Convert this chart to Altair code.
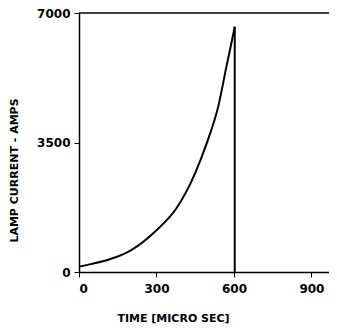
import altair as alt
import pandas as pd

time_us = [0, 50, 113, 204, 300, 378, 449, 494, 539, 572, 592, 603, 603]
current_a = [145, 220, 330, 600, 1130, 1730, 2660, 3470, 4470, 5590, 6250, 6630, 0]
x_ticks = [0, 300, 600, 900]
y_ticks = [0, 3500, 7000]

rise = pd.DataFrame({"t": time_us[:-1], "i": current_a[:-1]})
drop = pd.DataFrame({"t": [time_us[-1]], "i": [current_a[-2]], "i2": [current_a[-1]]})

FONT = "DejaVu Sans"
xs = alt.Scale(domain=[0, 968], nice=False)
ys = alt.Scale(domain=[0, 7000], nice=False)

line = alt.Chart(rise).mark_line(color="black", strokeWidth=2, interpolate="monotone").encode(
    x=alt.X("t:Q", scale=xs,
            axis=alt.Axis(values=x_ticks, format="d", title="TIME  [MICRO SEC]", grid=False,
                          domainColor="black", tickColor="black", tickSize=5,
                          labelPadding=6, titleX=94, titleY=46, titleAnchor="middle",
                          titleBaseline="middle")),
    y=alt.Y("i:Q", scale=ys,
            axis=alt.Axis(values=y_ticks, format="d", title="LAMP CURRENT - AMPS", grid=False,
                          domainColor="black", tickColor="black", tickSize=5,
                          labelPadding=4, titleX=-65, titleY=157,
                          titleAngle=270, titleAlign="center",
                          titleBaseline="middle")),
)

drop_rule = alt.Chart(drop).mark_rule(color="black", strokeWidth=2).encode(
    x=alt.X("t:Q", scale=xs), y=alt.Y("i:Q", scale=ys), y2="i2:Q"
)

top = alt.Chart(pd.DataFrame({"a": [0]})).mark_rule(color="black", strokeWidth=1.5).encode(
    x=alt.value(0), x2=alt.value(250), y=alt.value(0)
)

chart = (line + drop_rule + top).properties(
    width=250, height=259,
    padding={"left": 71, "top": 5, "right": 0, "bottom": 58},
    autosize="none",
).configure_view(stroke=None).configure_axis(
    labelFont=FONT, titleFont=FONT, labelFontSize=12, titleFontSize=11,
    labelFontWeight="bold", titleFontWeight="bold", labelColor="black", titleColor="black",
    domainWidth=1.5,
)

chart.save("out.html", embed_options={"renderer": "svg", "actions": False})
